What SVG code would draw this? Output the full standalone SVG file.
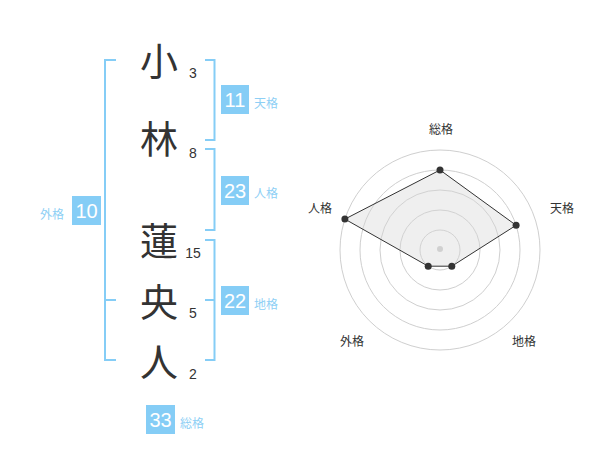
<svg xmlns="http://www.w3.org/2000/svg" width="600" height="470" viewBox="0 0 600 470">
<style>
.kanji{font-family:"Noto Sans CJK JP","Noto Sans CJK SC",sans-serif;font-size:38px;fill:#333;text-anchor:middle}
.num{font-family:"Liberation Sans",Arial,sans-serif;font-size:14px;fill:#333;text-anchor:middle}
.box{fill:#85cdf6}
.boxt{font-family:"Liberation Sans",Arial,sans-serif;font-size:20px;fill:#fff;text-anchor:middle}
.lbl{font-family:"Noto Sans CJK JP","Noto Sans CJK SC",sans-serif;font-size:12px;fill:#8ecff5}
.br{fill:none;stroke:#85cdf6;stroke-width:2}
.ring{fill:none;stroke:#cfcfcf;stroke-width:1}
.rl{font-family:"Noto Sans CJK JP","Noto Sans CJK SC",sans-serif;font-size:12px;fill:#333;text-anchor:middle}
.dot{fill:#333}
</style>
<g id="connectors">
<path class="br" d="M116,60 H105 V360 H116 M105,300 H116"/>
<path class="br" d="M205,60 H214.5 V140 H205"/>
<path class="br" d="M205,149 H214.5 V230 H205"/>
<path class="br" d="M205,240 H214.5 V360 H205 M214.5,300 H205"/>
</g>
<g id="name">
<text class="kanji" x="159" y="75">小</text>
<text class="kanji" x="159" y="153">林</text>
<text class="kanji" x="159" y="255">蓮</text>
<text class="kanji" x="159" y="316">央</text>
<text class="kanji" x="159" y="376">人</text>
<text class="num" x="193" y="78">3</text>
<text class="num" x="193" y="158">8</text>
<text class="num" x="193" y="258">15</text>
<text class="num" x="193" y="318">5</text>
<text class="num" x="193" y="379">2</text>
</g>
<g id="tenkaku">
<rect class="box" x="221" y="85" width="28" height="29"/>
<text class="boxt" x="235" y="107">11</text>
<text class="lbl" x="254" y="108">天格</text>
</g>
<g id="jinkaku">
<rect class="box" x="221" y="176" width="28" height="29"/>
<text class="boxt" x="235" y="198">23</text>
<text class="lbl" x="254" y="198">人格</text>
</g>
<g id="chikaku">
<rect class="box" x="221" y="286" width="28" height="29"/>
<text class="boxt" x="235" y="308">22</text>
<text class="lbl" x="254" y="309">地格</text>
</g>
<g id="gaikaku">
<rect class="box" x="72" y="196" width="29" height="29"/>
<text class="boxt" x="86.5" y="218">10</text>
<text class="lbl" x="40" y="219">外格</text>
</g>
<g id="soukaku">
<rect class="box" x="146" y="405" width="29" height="29"/>
<text class="boxt" x="160.5" y="427">33</text>
<text class="lbl" x="180" y="428">総格</text>
</g>
<g id="radar">
<circle class="ring" cx="440" cy="250" r="20"/>
<circle class="ring" cx="440" cy="250" r="40"/>
<circle class="ring" cx="440" cy="250" r="60"/>
<circle class="ring" cx="440" cy="250" r="80"/>
<circle class="ring" cx="440" cy="250" r="100"/>
<circle cx="440" cy="249" r="3" fill="#cccccc"/>
<polygon points="440,170 516.1,225.3 451.8,266.2 428.2,266.2 344.9,219.1" fill="#d8d8d8" fill-opacity="0.4" stroke="#333" stroke-width="1"/>
<circle class="dot" cx="440" cy="170" r="3.5"/>
<circle class="dot" cx="516.1" cy="225.3" r="3.5"/>
<circle class="dot" cx="451.8" cy="266.2" r="3.5"/>
<circle class="dot" cx="428.2" cy="266.2" r="3.5"/>
<circle class="dot" cx="344.9" cy="219.1" r="3.5"/>
<text class="rl" x="441" y="134">総格</text>
<text class="rl" x="562" y="213">天格</text>
<text class="rl" x="320" y="213">人格</text>
<text class="rl" x="524" y="346">地格</text>
<text class="rl" x="352" y="346">外格</text>
</g>
</svg>
